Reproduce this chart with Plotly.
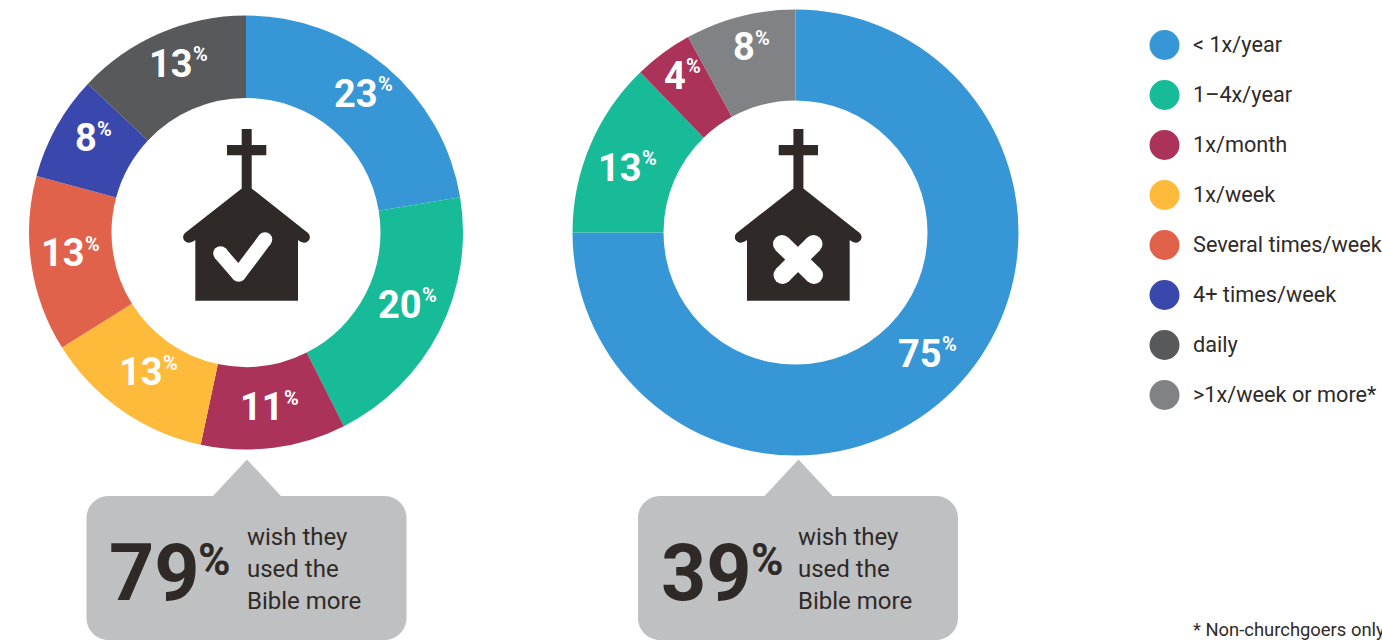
import math
import plotly.graph_objects as go

W, H = 1382, 641

# ---- data ----
freq_left_labels = ["< 1x/year", "1–4x/year", "1x/month", "1x/week", "Several times/week", "4+ times/week", "daily"]
freq_left_shares = [22.4, 20.15, 10.8, 12.75, 13.1, 7.8, 13.0]
freq_left_printed = [23, 20, 11, 13, 13, 8, 13]
freq_left_colors = ["#3797d6", "#17bb98", "#ab3359", "#feba3b", "#e0624a", "#3a47ac", "#58595b"]

freq_right_labels = ["< 1x/year", "1–4x/year", "1x/month", ">1x/week or more*"]
freq_right_shares = [75, 12.75, 4.25, 8]
freq_right_printed = [75, 13, 4, 8]
freq_right_colors = ["#3797d6", "#17bb98", "#ab3359", "#808285"]

legend_labels = ["< 1x/year", "1–4x/year", "1x/month", "1x/week", "Several times/week",
                 "4+ times/week", "daily", ">1x/week or more*"]
legend_colors = ["#3797d6", "#17bb98", "#ab3359", "#feba3b", "#e0624a", "#3a47ac", "#58595b", "#808285"]

wish_values = [79, 39]
wish_lines = ["wish they", "used the", "Bible more"]
footnote = "* Non-churchgoers only"

# ---- layout constants ----
INK = "#2f2a28"
CALLOUT = "#bfc0c2"
FONT = "Roboto"
left = dict(cx=246, cy=232.5, R=217, r=134.5)
right = dict(cx=795.5, cy=232.5, R=223, r=132)
left_nudge = [(4.1, -5.3), (5.0, -7.9), (1.8, 0), (3.7, -4.8), (-0.5, -5.4), (1.4, -9.2), (3.0, -7.8)]
right_nudge = [(7.5, -5), (-4, 3.7), (-6.5, -14.7), (0.6, -13.6)]

fig = go.Figure()


def add_pie(p, labels, values, colors):
    fig.add_trace(go.Pie(
        labels=labels, values=values, sort=False, direction="clockwise", rotation=0,
        hole=p["r"] / p["R"], textinfo="none", showlegend=False, hoverinfo="label+value",
        marker=dict(colors=colors, line=dict(width=0)),
        domain=dict(x=[(p["cx"] - p["R"]) / W, (p["cx"] + p["R"]) / W],
                    y=[1 - (p["cy"] + p["R"]) / H, 1 - (p["cy"] - p["R"]) / H]),
    ))


add_pie(left, freq_left_labels, freq_left_shares, freq_left_colors)
add_pie(right, freq_right_labels, freq_right_shares, freq_right_colors)

# legend as a marker trace
legend_y = [45 + 50 * i for i in range(len(legend_labels))]
fig.add_trace(go.Scatter(
    x=[1164.5] * len(legend_labels), y=legend_y, mode="markers", showlegend=False,
    marker=dict(size=30, color=legend_colors, line=dict(width=0)), hoverinfo="skip",
    cliponaxis=False,
))

annotations = []
shapes = []


def text(x, base, s, size, color=INK, bold=False, anchor="left"):
    annotations.append(dict(
        x=x, y=base - 0.355 * size, xref="x", yref="y", text=f"<b>{s}</b>" if bold else s,
        showarrow=False, xanchor=anchor, yanchor="middle", borderpad=0, borderwidth=0,
        font=dict(family=FONT, size=size, color=color),
    ))


for lab, y in zip(legend_labels, legend_y):
    text(1193, y + 7.5, lab, 21.7)
text(1193, 636.5, footnote, 18.4)


def pct_labels(p, shares, printed, nudges):
    total = sum(shares)
    run = 0
    rm = (p["R"] + p["r"]) / 2
    for v, lab, (nx, ny) in zip(shares, printed, nudges):
        a = math.radians((run + v / 2) / total * 360)
        run += v
        cx = p["cx"] + rm * math.sin(a) + nx
        cy = p["cy"] - rm * math.cos(a) + ny
        s = str(lab)
        nw = 21.8 * len(s)
        total_w = nw + 16
        x0 = cx - total_w / 2
        base = cy + 14
        text(x0 + nw, base, s, 38, "#ffffff", True, "right")
        text(x0 + nw, base - 16, "%", 20, "#ffffff", True, "left")


pct_labels(left, freq_left_shares, freq_left_printed, left_nudge)
pct_labels(right, freq_right_shares, freq_right_printed, right_nudge)


def rrect_path(x0, y0, x1, y1, rad, tip_x, tip_l, tip_r, tip_y):
    k = rad * 0.45
    return (f"M{x0 + rad},{y0} L{tip_l},{y0} L{tip_x},{tip_y} L{tip_r},{y0} L{x1 - rad},{y0} "
            f"C{x1 - k},{y0} {x1},{y0 + k} {x1},{y0 + rad} L{x1},{y1 - rad} "
            f"C{x1},{y1 - k} {x1 - k},{y1} {x1 - rad},{y1} L{x0 + rad},{y1} "
            f"C{x0 + k},{y1} {x0},{y1 - k} {x0},{y1 - rad} L{x0},{y0 + rad} "
            f"C{x0},{y0 + k} {x0 + k},{y0} {x0 + rad},{y0} Z")


def callout(dx, num_x, txt_x, value):
    shapes.append(dict(type="path", xref="x", yref="y", fillcolor=CALLOUT, line=dict(width=0),
                       path=rrect_path(86.5 + dx, 496, 406.5 + dx, 640, 22, 247 + dx, 213 + dx, 281 + dx, 459.5)))
    text(num_x, 601, str(value), 79, INK, True)
    text(num_x + 89.5, 576, "%", 44, INK, True)
    for ln, base in zip(wish_lines, [546, 578, 610]):
        text(txt_x, base, ln, 24)


def house(dx):
    X = lambda v: v + dx
    p = (f"M{X(241.7)},129 L{X(251.7)},129 L{X(251.7)},145 L{X(266.3)},145 L{X(266.3)},155.3 "
         f"L{X(251.7)},155.3 L{X(251.7)},188.5 L{X(308)},233 "
         f"C{X(311)},236 {X(310)},240 {X(307.5)},241.5 C{X(305)},243.5 {X(302)},243 {X(298)},240 "
         f"L{X(298)},300.7 L{X(195.3)},300.7 L{X(195.3)},240 "
         f"C{X(191)},243 {X(188)},243.5 {X(185.5)},241.5 C{X(183)},240 {X(182)},236 {X(185)},233 "
         f"L{X(241.7)},188.5 L{X(241.7)},155.3 L{X(227)},155.3 L{X(227)},145 L{X(241.7)},145 Z")
    shapes.append(dict(type="path", xref="x", yref="y", fillcolor=INK, line=dict(width=0), path=p))


def stroke(pts, w):
    for (a, b), (c, d) in zip(pts[:-1], pts[1:]):
        shapes.append(dict(type="line", xref="x", yref="y", x0=a, y0=b, x1=c, y1=d,
                           line=dict(color="#ffffff", width=w)))
    for a, b in pts:
        shapes.append(dict(type="circle", xref="x", yref="y", x0=a - w / 2, x1=a + w / 2,
                           y0=b - w / 2, y1=b + w / 2, fillcolor="#ffffff", line=dict(width=0)))


callout(0, 108.5, 247, wish_values[0])
callout(551.5, 661, 798, wish_values[1])
house(0)
house(551.7)
stroke([(220.5, 253.5), (238.7, 274.5), (265, 239.5)], 14.5)
stroke([(782, 244), (814, 275)], 18)
stroke([(813.5, 244), (782.5, 275)], 18)

fig.update_layout(
    width=W, height=H, margin=dict(l=0, r=0, t=0, b=0, autoexpand=False),
    paper_bgcolor="#ffffff", plot_bgcolor="rgba(0,0,0,0)",
    xaxis=dict(range=[0, W], visible=False, fixedrange=True, domain=[0, 1]),
    yaxis=dict(range=[H, 0], visible=False, fixedrange=True, domain=[0, 1]),
    shapes=shapes, annotations=annotations, showlegend=False,
    font=dict(family=FONT),
)
fig.write_html("out.html", config=dict(displayModeBar=False),
               post_script="document.body.style.margin='0';document.body.style.overflow='hidden';")
